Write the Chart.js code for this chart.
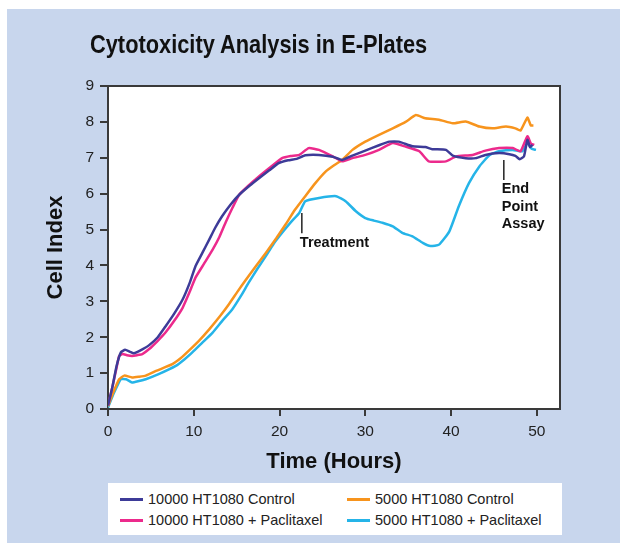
<!DOCTYPE html>
<html>
<head>
<meta charset="utf-8">
<script src="https://cdn.jsdelivr.net/npm/chart.js@4/dist/chart.umd.min.js"></script>
<style>
  body { margin: 0; background: #fff; width: 620px; height: 546px; overflow: hidden; position: relative; }
  #bg { position: absolute; left: 7px; top: 9px; width: 613px; height: 534px; background: #c8d6ed; }
  #c { position: absolute; left: 0; top: 0; }
  #title { position: absolute; left: 90px; top: 32px; font: bold 25px/25px 'Liberation Sans', Arial, sans-serif; color: #111; white-space: nowrap; transform: scaleX(0.872); transform-origin: 0 0; }
  #legend { position: absolute; left: 108px; top: 483px; width: 454px; height: 52px; background: #fff; font: 14.5px 'Liberation Sans', Arial, sans-serif; color: #222; }
  .item { position: absolute; height: 20px; line-height: 20px; white-space: nowrap; }
  .item span.sw { position: absolute; left: 0; top: 9px; width: 23px; height: 3px; }
  .item span.tx { position: absolute; left: 28px; top: 0; }
</style>
</head>
<body>
<div id="bg"></div>
<canvas id="c" width="620" height="546"></canvas>
<div id="title">Cytotoxicity Analysis in E-Plates</div>
<div id="legend"></div>
<script>
// series names and colours
var names = ['10000 HT1080 Control', '10000 HT1080 + Paclitaxel', '5000 HT1080 Control', '5000 HT1080 + Paclitaxel'];
var colors = ['#3d3b98', '#ec2a8c', '#f7941d', '#25b4e8'];

// 10000 HT1080 Control
var ctrl10kHours = [0, 0.5, 1.0, 1.5, 2.0, 2.5, 3.0, 3.5, 4.0, 4.8, 5.8, 6.7, 7.7, 8.7, 9.5, 10.2, 11, 11.8, 12.5, 13.3, 14.3, 15.3, 16.5, 17.6, 18.8, 19.9, 21, 22, 23, 24.6, 26.2, 27.3, 28.5, 30, 31.6, 32.8, 33.9, 35.5, 37, 37.8, 39.4, 40.2, 41.7, 42.9, 44, 45.6, 46.8, 47.5, 48.0, 48.5, 48.9, 49.2, 49.5];
var ctrl10kCI = [0.1, 0.6, 1.2, 1.58, 1.65, 1.6, 1.55, 1.6, 1.66, 1.78, 2.0, 2.3, 2.65, 3.05, 3.5, 3.98, 4.35, 4.72, 5.05, 5.37, 5.7, 5.97, 6.22, 6.43, 6.65, 6.85, 6.93, 6.97, 7.07, 7.08, 7.03, 6.94, 7.06, 7.2, 7.35, 7.45, 7.45, 7.32, 7.3, 7.24, 7.22, 7.06, 6.99, 6.99, 7.08, 7.13, 7.1, 7.05, 6.96, 7.04, 7.5, 7.3, 7.36];

// 10000 HT1080 + Paclitaxel
var pac10kHours = [0, 0.5, 1.0, 1.3, 1.7, 2.2, 2.8, 3.4, 4, 4.8, 5.8, 6.7, 7.7, 8.7, 9.5, 10.2, 11.2, 12.2, 13, 13.7, 14.5, 15.3, 16.5, 17.6, 19, 20.3, 21.3, 22.3, 23.4, 24.6, 26.2, 27.3, 28.5, 30, 31.6, 33.2, 34.7, 36.3, 37.4, 39.4, 40.6, 42.5, 44, 45.6, 47.2, 48.1, 48.9, 49.3, 49.7];
var pac10kCI = [0.1, 0.6, 1.15, 1.48, 1.53, 1.5, 1.48, 1.5, 1.53, 1.67, 1.9, 2.13, 2.45, 2.82, 3.25, 3.66, 4.05, 4.44, 4.8, 5.19, 5.6, 5.97, 6.25, 6.48, 6.75, 6.99, 7.05, 7.08, 7.27, 7.22, 7.04, 6.9, 6.99, 7.08, 7.22, 7.41, 7.31, 7.18, 6.9, 6.9, 7.04, 7.08, 7.2, 7.27, 7.27, 7.18, 7.6, 7.4, 7.36];

// 5000 HT1080 Control
var ctrl5kHours = [0, 0.6, 1.3, 1.9, 2.8, 3.6, 4.4, 5.6, 7.5, 8.5, 9.4, 10.6, 11.8, 13, 14.1, 15.1, 16.1, 17.3, 18.4, 19.6, 20.7, 21.8, 23, 24.2, 25.4, 26.4, 27.3, 28.5, 30, 31.6, 33.2, 34.7, 35.9, 37, 38.6, 40.2, 41.7, 43.3, 44.8, 46.4, 47.5, 48.1, 48.9, 49.3, 49.6];
var ctrl5kCI = [0.08, 0.45, 0.83, 0.93, 0.88, 0.9, 0.93, 1.06, 1.25, 1.42, 1.62, 1.9, 2.22, 2.57, 2.92, 3.27, 3.61, 4.0, 4.35, 4.75, 5.14, 5.55, 5.93, 6.3, 6.62, 6.8, 6.94, 7.22, 7.45, 7.64, 7.82, 8.0, 8.19, 8.1, 8.06, 7.96, 8.01, 7.87, 7.82, 7.87, 7.82, 7.76, 8.12, 7.9, 7.9];

// 5000 HT1080 + Paclitaxel
var pac5kHours = [0, 0.7, 1.5, 2.1, 2.8, 3.6, 4.4, 5.9, 7.9, 8.9, 9.8, 11, 12.2, 13.3, 14.5, 15.5, 16.4, 17.4, 18.4, 19.3, 20.3, 21.3, 22.3, 23, 24.6, 26.6, 27.7, 28.9, 30, 31, 32, 33.2, 34.3, 35.5, 36.7, 37.6, 38.6, 39.8, 40.9, 42.1, 43.3, 44.5, 45.6, 47.2, 48.3, 48.9, 49.4, 49.9];
var pac5kCI = [0.04, 0.45, 0.83, 0.83, 0.74, 0.78, 0.83, 0.97, 1.2, 1.38, 1.57, 1.85, 2.13, 2.45, 2.78, 3.15, 3.52, 3.9, 4.26, 4.6, 4.91, 5.2, 5.46, 5.79, 5.88, 5.93, 5.79, 5.51, 5.32, 5.25, 5.19, 5.09, 4.91, 4.81, 4.63, 4.54, 4.58, 4.95, 5.65, 6.3, 6.76, 7.08, 7.18, 7.22, 7.18, 7.41, 7.25, 7.22];

// axis ticks
var xTicks = [0, 10, 20, 30, 40, 50];
var yTicks = [0, 1, 2, 3, 4, 5, 6, 7, 8, 9];

// annotations (hours, cell index)
var treatment = { hour: 22.6, from: 5.46, to: 4.9, text: ['Treatment'], textY: 4.62 };
var endPoint = { hour: 46.15, from: 6.94, to: 6.38, text: ['End', 'Point', 'Assay'], textY: 6.13 };

function pts(h, v) {
  var out = [];
  for (var i = 0; i < h.length; i++) out.push({ x: h[i], y: v[i] });
  return out;
}

var seriesHours = [ctrl10kHours, pac10kHours, ctrl5kHours, pac5kHours];
var seriesCI = [ctrl10kCI, pac10kCI, ctrl5kCI, pac5kCI];
var datasets = [];
for (var s = 0; s < names.length; s++) {
  datasets.push({
    label: names[s],
    data: pts(seriesHours[s], seriesCI[s]),
    borderColor: colors[s],
    borderWidth: 2.5,
    pointRadius: 0,
    tension: 0.15,
    fill: false
  });
}

// html legend
var legend = document.getElementById('legend');
var pos = [[12, 6], [12, 27], [239, 6], [239, 27]];
for (var k = 0; k < names.length; k++) {
  var d = document.createElement('div');
  d.className = 'item';
  d.style.left = pos[k][0] + 'px';
  d.style.top = pos[k][1] + 'px';
  d.innerHTML = '<span class="sw" style="background:' + colors[k] + '"></span><span class="tx"></span>';
  d.querySelector('.tx').textContent = names[k];
  legend.appendChild(d);
}

var framePlugin = {
  id: 'frame',
  beforeDraw: function (chart) {
    var a = chart.chartArea, c = chart.ctx;
    c.save();
    c.fillStyle = '#fff';
    c.fillRect(a.left, a.top, a.right - a.left, a.bottom - a.top);
    c.restore();
  },
  afterDraw: function (chart) {
    var a = chart.chartArea, c = chart.ctx;
    c.save();
    c.strokeStyle = '#3a3a3a';
    c.lineWidth = 2;
    c.beginPath();
    c.moveTo(a.left, a.top);
    c.lineTo(a.right, a.top);
    c.lineTo(a.right, a.bottom);
    c.stroke();
    c.restore();
  }
};

var notePlugin = {
  id: 'notes',
  afterDatasetsDraw: function (chart) {
    var x = chart.scales.x, y = chart.scales.y, c = chart.ctx;
    c.save();
    [treatment, endPoint].forEach(function (n) {
      var px = x.getPixelForValue(n.hour);
      c.strokeStyle = '#222';
      c.lineWidth = 1.5;
      c.beginPath();
      c.moveTo(px, y.getPixelForValue(n.from));
      c.lineTo(px, y.getPixelForValue(n.to));
      c.stroke();
      c.fillStyle = '#111';
      c.font = 'bold 14.5px "Liberation Sans", Arial, sans-serif';
      c.textBaseline = 'middle';
      c.textAlign = 'left';
      var ty = y.getPixelForValue(n.textY);
      n.text.forEach(function (t, i) {
        c.fillText(t, px - 2, ty + i * 17.5);
      });
    });
    c.restore();
  }
};

Chart.defaults.font.family = '"Liberation Sans", Arial, sans-serif';
Chart.defaults.color = '#222';

new Chart(document.getElementById('c'), {
  type: 'line',
  data: { datasets: datasets },
  options: {
    responsive: false,
    animation: false,
    layout: { padding: { left: 43, top: 86, right: 60, bottom: 71 } },
    plugins: { legend: { display: false }, title: { display: false }, tooltip: { enabled: false } },
    scales: {
      x: {
        type: 'linear',
        min: 0,
        max: 52.7,
        afterBuildTicks: function (sc) { sc.ticks = xTicks.map(function (v) { return { value: v }; }); },
        afterFit: function (sc) { sc.height = 66; sc.paddingLeft = 0; sc.paddingRight = 0; },
        ticks: { font: { size: 15.5 }, color: '#222', padding: 6, maxRotation: 0 },
        grid: { drawOnChartArea: false, drawTicks: true, tickLength: 7, color: '#3a3a3a', lineWidth: 2 },
        border: { display: true, color: '#3a3a3a', width: 2 },
        title: { display: true, text: 'Time (Hours)', font: { size: 22, weight: 'bold' }, color: '#111', padding: { top: 0, bottom: 0 } }
      },
      y: {
        min: 0,
        max: 9,
        afterBuildTicks: function (sc) { sc.ticks = yTicks.map(function (v) { return { value: v }; }); },
        afterFit: function (sc) { sc.width = 65; sc.paddingTop = 0; sc.paddingBottom = 0; },
        ticks: { font: { size: 15.5 }, color: '#222', padding: 6 },
        grid: { drawOnChartArea: false, drawTicks: true, tickLength: 8, color: '#3a3a3a', lineWidth: 2 },
        border: { display: true, color: '#3a3a3a', width: 2 },
        title: { display: true, text: 'Cell Index', font: { size: 22, weight: 'bold' }, color: '#111', padding: { top: 0, bottom: 0 } }
      }
    }
  },
  plugins: [framePlugin, notePlugin]
});
</script>
</body>
</html>
